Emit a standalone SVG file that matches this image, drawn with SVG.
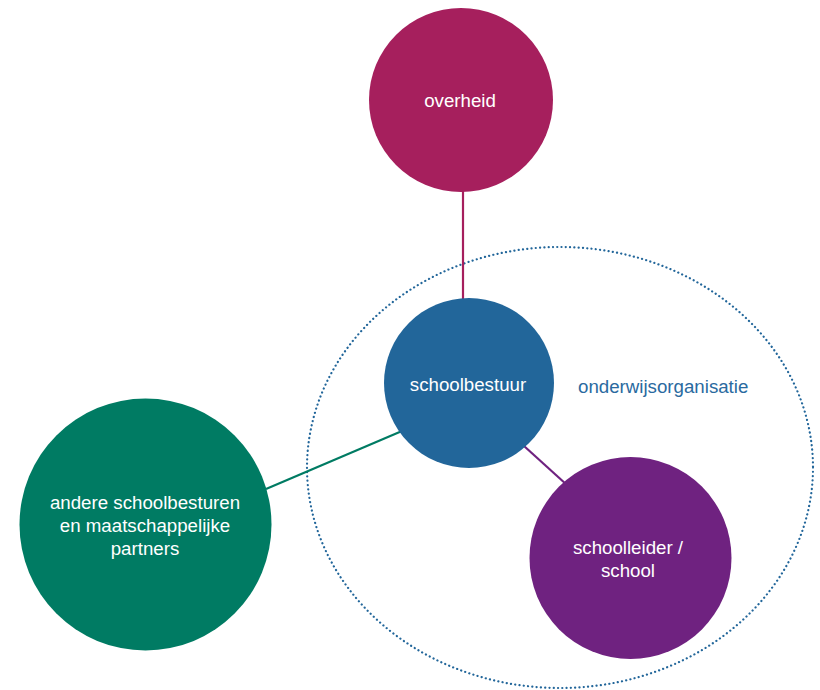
<svg xmlns="http://www.w3.org/2000/svg" width="820" height="690" viewBox="0 0 820 690">
<style>
.lbl{font-family:"Liberation Sans",Arial,sans-serif;font-size:18.7px;fill:#ffffff;text-anchor:middle}
.org{font-family:"Liberation Sans",Arial,sans-serif;font-size:18.7px;fill:#2a6aa0}
</style>
<rect width="820" height="690" fill="#ffffff"/>
<ellipse id="onderwijsorganisatie-boundary" cx="560" cy="467.5" rx="253" ry="220.5" fill="none" stroke="#22669a" stroke-width="2.2" stroke-dasharray="0.1 4.2" stroke-linecap="round"/>
<g id="connectors" stroke-width="2.2" fill="none">
<line x1="463" y1="190" x2="463" y2="300" stroke="#a61f5d"/>
<line x1="266" y1="489" x2="402" y2="431" stroke="#007b63"/>
<line x1="524" y1="446" x2="567" y2="485" stroke="#6f2280"/>
</g>
<g id="overheid">
<circle cx="461" cy="100" r="92" fill="#a61f5d"/>
<text class="lbl" x="460" y="107">overheid</text>
</g>
<g id="schoolbestuur">
<circle cx="469" cy="383" r="85" fill="#22669a"/>
<text class="lbl" x="468" y="391">schoolbestuur</text>
</g>
<g id="andere">
<circle cx="145.5" cy="524.5" r="126" fill="#007b63"/>
<text class="lbl" x="145" y="509">andere schoolbesturen</text>
<text class="lbl" x="145" y="532">en maatschappelijke</text>
<text class="lbl" x="145" y="555">partners</text>
</g>
<g id="schoolleider">
<circle cx="630.5" cy="558" r="101" fill="#6f2280"/>
<text class="lbl" x="628" y="554">schoolleider /</text>
<text class="lbl" x="628" y="577">school</text>
</g>
<g id="onderwijsorganisatie">
<text class="org" x="578" y="393">onderwijsorganisatie</text>
</g>
</svg>
